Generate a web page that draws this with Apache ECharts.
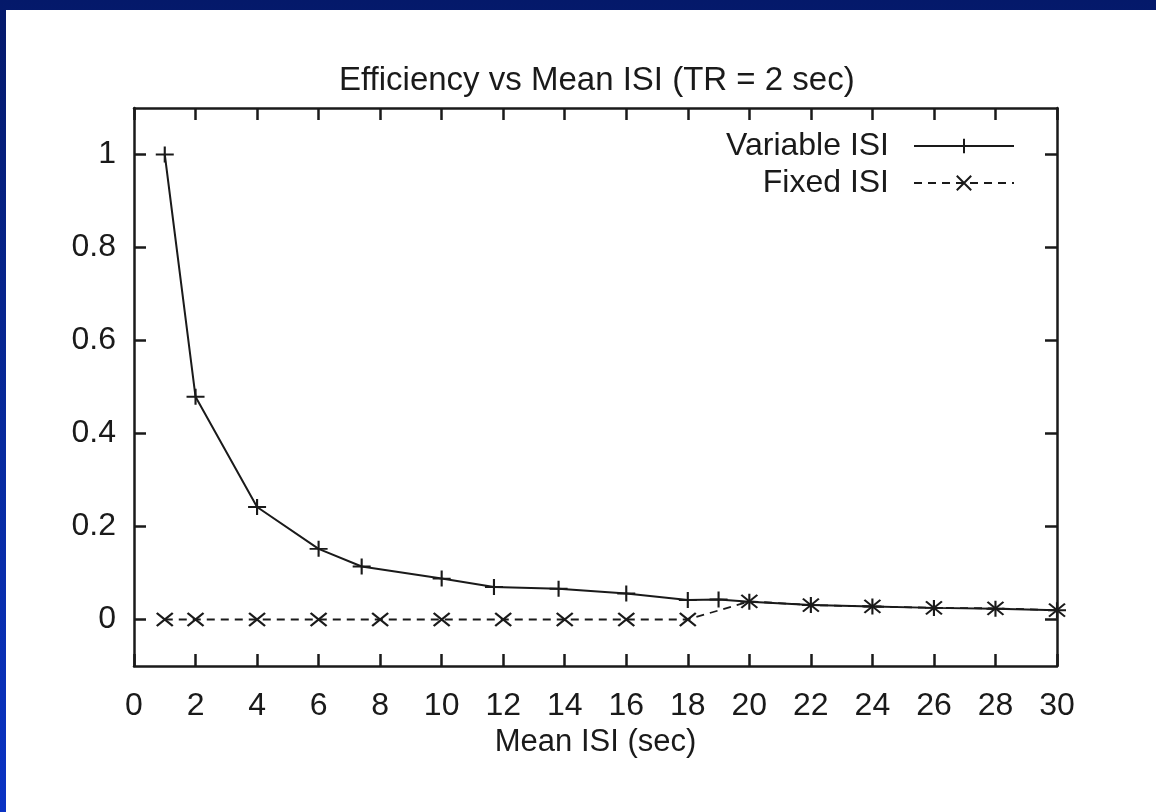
<!DOCTYPE html>
<html>
<head>
<meta charset="utf-8">
<script src="https://cdn.jsdelivr.net/npm/echarts@6/dist/echarts.min.js"></script>
<style>
  html, body { margin: 0; padding: 0; width: 1156px; height: 812px; overflow: hidden; }
  body { background: linear-gradient(to bottom, #04196a 0%, #072a9e 55%, #0a33c4 100%); position: relative; }
  #paper { position: absolute; left: 6px; top: 10px; width: 1150px; height: 802px; background: #ffffff; }
  #chart { position: absolute; left: 0; top: 0; width: 1156px; height: 812px; }
</style>
</head>
<body>
<div id="paper"></div>
<div id="chart"></div>
<script>
// ---- data ----
var titleText = 'Efficiency vs Mean ISI (TR = 2 sec)';
var xAxisName = 'Mean ISI (sec)';
var seriesNames = ['Variable ISI', 'Fixed ISI'];

var variableX = [1, 2, 4, 6, 7.4, 10, 11.7, 13.8, 16, 18, 19, 20, 22, 24, 26, 28, 30];
var variableY = [1.0, 0.479, 0.242, 0.152, 0.114, 0.088, 0.070, 0.066, 0.056, 0.042, 0.043, 0.038, 0.031, 0.028, 0.025, 0.023, 0.020];

var fixedX = [1, 2, 4, 6, 8, 10, 12, 14, 16, 18, 20, 22, 24, 26, 28, 30];
var fixedY = [0, 0, 0, 0, 0, 0, 0, 0, 0, 0, 0.039, 0.031, 0.028, 0.025, 0.024, 0.020];

var yTickValues = [0, 0.2, 0.4, 0.6, 0.8, 1];

// ---- build ----
function pairs(xs, ys) { return xs.map(function (x, i) { return [x, ys[i]]; }); }

var FONT = '"Liberation Sans", Arial, Helvetica, sans-serif';
var INK = '#1a1a1a';
var plusPath = 'path://M0,-8L0,8M-9,0L9,0';
var crossPath = 'path://M-8,-6L8,6M-8,6L8,-6';

var chart = echarts.init(document.getElementById('chart'), null, { renderer: 'canvas' });

var axisLine = { show: true, onZero: false, lineStyle: { color: INK, width: 2.5 } };
var tickStyle = { show: true, inside: true, length: 12, lineStyle: { color: INK, width: 2.5 } };

var option = {
  backgroundColor: 'transparent',
  animation: false,
  title: {
    text: titleText,
    left: 339,
    top: 64,
    padding: 0,
    textStyle: { fontFamily: FONT, fontSize: 33, fontWeight: 'normal', color: INK }
  },
  legend: [
    {
      data: [seriesNames[0]],
      right: 141, top: 130, padding: 0,
      itemWidth: 100, itemHeight: 18, align: 'right',
      selectedMode: false,
      textStyle: { fontFamily: FONT, fontSize: 32, color: INK, padding: [0, 20, 0, 0] }
    },
    {
      data: [seriesNames[1]],
      right: 141, top: 167, padding: 0,
      itemWidth: 100, itemHeight: 18, align: 'right',
      selectedMode: false,
      textStyle: { fontFamily: FONT, fontSize: 32, color: INK, padding: [0, 20, 0, 0] }
    }
  ],
  grid: { left: 134, top: 108, width: 923, height: 558, containLabel: false },
  xAxis: [
    {
      type: 'value', position: 'bottom', min: 0, max: 30, interval: 2,
      axisLine: axisLine, axisTick: tickStyle, splitLine: { show: false },
      axisLabel: { margin: 24, fontFamily: FONT, fontSize: 32, color: INK },
      name: xAxisName, nameLocation: 'middle', nameGap: 60,
      nameTextStyle: { fontFamily: FONT, fontSize: 31, color: INK }
    },
    {
      type: 'value', position: 'top', min: 0, max: 30, interval: 2,
      axisLine: axisLine, axisTick: tickStyle, splitLine: { show: false },
      axisLabel: { show: false }
    }
  ],
  yAxis: [
    {
      type: 'value', position: 'left', min: -0.1, max: 1.1,
      axisLine: axisLine,
      axisTick: Object.assign({}, tickStyle, { customValues: yTickValues }),
      splitLine: { show: false },
      axisLabel: { customValues: yTickValues, margin: 18, fontFamily: FONT, fontSize: 32, color: INK }
    },
    {
      type: 'value', position: 'right', min: -0.1, max: 1.1,
      axisLine: axisLine,
      axisTick: Object.assign({}, tickStyle, { customValues: yTickValues }),
      splitLine: { show: false },
      axisLabel: { show: false }
    }
  ],
  series: [
    {
      name: seriesNames[0], type: 'line', xAxisIndex: 0, yAxisIndex: 0,
      data: pairs(variableX, variableY),
      symbol: plusPath, symbolSize: [18, 16], showSymbol: true, clip: false,
      lineStyle: { color: INK, width: 2, type: 'solid' },
      itemStyle: { color: INK, borderColor: INK, borderWidth: 2 },
      emphasis: { disabled: true }
    },
    {
      name: seriesNames[1], type: 'line', xAxisIndex: 0, yAxisIndex: 0,
      data: pairs(fixedX, fixedY),
      symbol: crossPath, symbolSize: [16, 13], showSymbol: true, clip: false,
      lineStyle: { color: INK, width: 1.8, type: [8, 6] },
      itemStyle: { color: INK, borderColor: INK, borderWidth: 2 },
      emphasis: { disabled: true }
    }
  ]
};
chart.setOption(option);
</script>
</body>
</html>
